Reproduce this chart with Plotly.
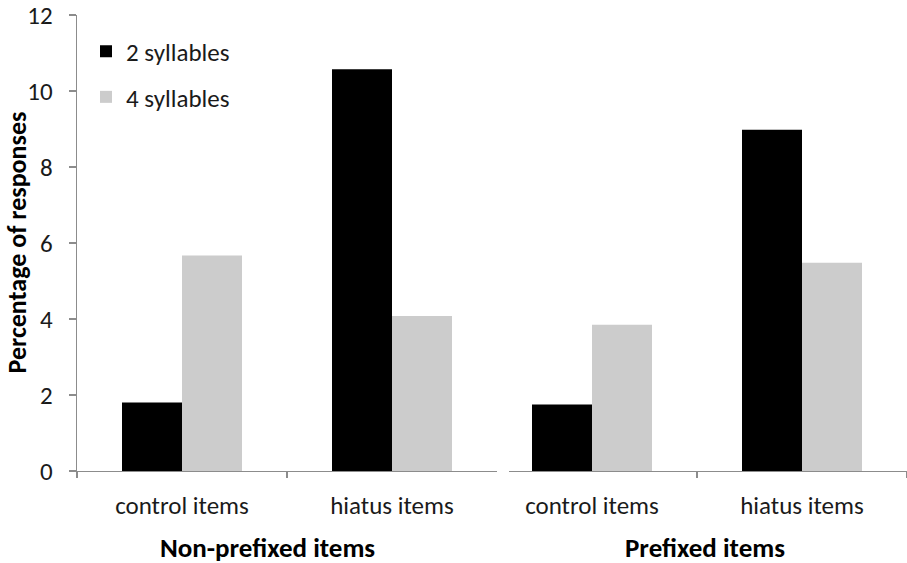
import plotly.graph_objects as go

categories = ["control items", "hiatus items"]
groups = ["Non-prefixed items", "Prefixed items"]
series_names = ["2 syllables", "4 syllables"]
two_syll_nonpref = [1.80, 10.57]
four_syll_nonpref = [5.67, 4.08]
two_syll_pref = [1.75, 8.98]
four_syll_pref = [3.85, 5.48]
y_ticks = [0, 2, 4, 6, 8, 10, 12]

BLACK = "#000000"
GRAY = "#CCCCCC"
AXIS = "#8C8C8C"
TXT = "#1a1a1a"
FONT = "Carlito, Lato, Liberation Sans, sans-serif"

W, H = 907, 563
L, R, T, B = 77, 0, 10, 92
plot_w = W - L - R
plot_h = H - T - B

def px_x(px):
    return (px - L) / plot_w

def px_y(py):
    return (H - B - py) / plot_h

fig = go.Figure()
fig.add_trace(go.Bar(x=categories, y=two_syll_nonpref, name=series_names[0],
                     marker=dict(color=BLACK, line=dict(width=0)),
                     xaxis="x", yaxis="y", legend="legend"))
fig.add_trace(go.Bar(x=categories, y=four_syll_nonpref, name=series_names[1],
                     marker=dict(color=GRAY, line=dict(width=0)),
                     xaxis="x", yaxis="y", legend="legend2"))
fig.add_trace(go.Bar(x=categories, y=two_syll_pref, name=series_names[0],
                     marker=dict(color=BLACK, line=dict(width=0)),
                     xaxis="x2", yaxis="y", showlegend=False))
fig.add_trace(go.Bar(x=categories, y=four_syll_pref, name=series_names[1],
                     marker=dict(color=GRAY, line=dict(width=0)),
                     xaxis="x2", yaxis="y", showlegend=False))

cat_px = 210.0
p1_end = L + 2 * cat_px
p2_start = 509
p2_range_start = 1.5 - (W - R - p2_start) / cat_px

xcommon = dict(type="category", showline=True, linecolor=AXIS, linewidth=1.3,
               ticks="outside", tickson="boundaries", ticklen=6, tickcolor=AXIS,
               tickwidth=1.3, showgrid=False, zeroline=False,
               tickfont=dict(family=FONT, size=25, color=TXT),
               ticklabelstandoff=12, fixedrange=True)

fig.update_layout(
    width=W, height=H,
    margin=dict(l=L, r=R, t=T, b=B, pad=0),
    paper_bgcolor="white", plot_bgcolor="white",
    barmode="group", bargap=90 / 210, bargroupgap=0,
    font=dict(family=FONT, size=25, color=TXT),
    xaxis=dict(domain=[0, px_x(p1_end)], range=[-0.5, 1.5], anchor="y", **xcommon),
    xaxis2=dict(domain=[px_x(p2_start), 1], range=[p2_range_start, 1.5], anchor="y", **xcommon),
    yaxis=dict(range=[0, 12], tickvals=y_ticks, showline=True, linecolor=AXIS,
               linewidth=1.3, ticks="outside", ticklen=7, tickcolor=AXIS, tickwidth=1.3,
               showgrid=False, zeroline=False, ticklabelstandoff=11,
               ticklabeloverflow="allow", fixedrange=True,
               tickfont=dict(family=FONT, size=25, color=TXT)),
    legend=dict(x=px_x(86), y=px_y(47), xanchor="left", yanchor="middle",
                bgcolor="rgba(0,0,0,0)", itemwidth=30,
                font=dict(family=FONT, size=25, color=TXT)),
    legend2=dict(x=px_x(86), y=px_y(93), xanchor="left", yanchor="middle",
                 bgcolor="rgba(0,0,0,0)", itemwidth=30,
                 font=dict(family=FONT, size=25, color=TXT)),
    annotations=[
        dict(text="<b>Percentage of responses</b>", textangle=-90, x=px_x(17), y=px_y(240),
             xref="paper", yref="paper", showarrow=False, xanchor="center", yanchor="middle",
             font=dict(family=FONT, size=26, color="#000000")),
        dict(text="<b>" + groups[0] + "</b>", x=px_x(267), y=px_y(548),
             xref="paper", yref="paper", showarrow=False, xanchor="center", yanchor="middle",
             font=dict(family=FONT, size=27, color="#000000")),
        dict(text="<b>" + groups[1] + "</b>", x=px_x(705), y=px_y(548),
             xref="paper", yref="paper", showarrow=False, xanchor="center", yanchor="middle",
             font=dict(family=FONT, size=27, color="#000000")),
    ],
)

fig.write_html("out.html", config={"displayModeBar": False, "staticPlot": True},
               post_script="document.body.style.margin='0';")
